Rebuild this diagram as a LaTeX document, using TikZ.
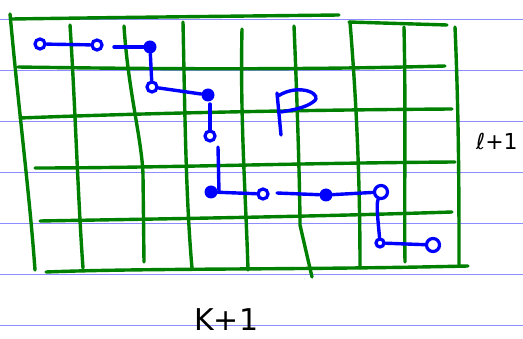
\documentclass[tikz,border=0pt]{standalone}
\usepackage{fontspec}
\setmainfont{DejaVu Sans}
\begin{document}
\begin{tikzpicture}[x=1pt,y=-1pt,
  rule/.style={draw=blue!45, line width=0.9pt},
  grid/.style={draw=green!50!black, line width=3.4pt, line cap=round, line join=round},
  path/.style={draw=blue, line width=3.4pt, line cap=round, line join=round},
  odot/.style={circle, draw=blue, line width=3.2pt, inner sep=0pt, minimum size=10pt},
  bigodot/.style={odot, minimum size=13pt},
  fdot/.style={circle, fill=blue, inner sep=0pt, minimum size=13pt},
  hand/.style={inner sep=0pt, text=black}]
\useasboundingbox (0,0) rectangle (523,339);
% ruled paper lines
\foreach \y in {19,70,121,172,223,274,325}
  \draw[rule] (0,\y) -- (523,\y);
% green grid: horizontal
\draw[grid] (12,19) .. controls (150,17) and (250,16) .. (339,15);
\draw[grid] (349,22) -- (447,25);
\draw[grid] (18,67) .. controls (150,69) and (300,70) .. (445,66);
\draw[grid] (20,118) .. controls (150,113) and (300,110) .. (452,109);
\draw[grid] (35,168) .. controls (150,168) and (300,163) .. (455,162);
\draw[grid] (40,221) .. controls (150,219) and (300,217) .. (452,212);
\draw[grid] (46,272) .. controls (150,268) and (300,270) .. (468,266);
% green grid: vertical
\draw[grid] (10,14) -- (12,35) .. controls (20,120) and (30,200) .. (35,270);
\draw[grid] (70,25) .. controls (75,100) and (78,200) .. (83,268);
\draw[grid] (124,26) .. controls (128,90) and (142,140) .. (143,175) -- (144,262);
\draw[grid] (183,22) .. controls (185,120) and (186,200) .. (192,268);
\draw[grid] (242,29) .. controls (240,120) and (246,200) .. (248,270);
\draw[grid] (294,26) .. controls (298,120) and (300,200) .. (300,225) -- (312,277);
\draw[grid] (350,22) .. controls (358,120) and (360,200) .. (360,268);
\draw[grid] (404,27) .. controls (406,120) and (404,200) .. (405,262);
\draw[grid] (455,27) .. controls (459,120) and (459,200) .. (459,265);
% blue path dots
\node[odot] (A) at (40,44) {};
\node[odot] (B) at (97,45) {};
\node[fdot] (C) at (150,47) {};
\node[odot] (D) at (152,87) {};
\node[fdot] (E) at (208,95) {};
\node[odot] (F) at (210,136) {};
\node[fdot] (G) at (211,192) {};
\node[odot] (H) at (263,194) {};
\node[fdot] (I) at (326,195) {};
\node[bigodot] (J) at (381,192) {};
\node[odot, minimum size=8pt] (K) at (380,243) {};
\node[bigodot] (L) at (433,245) {};
\coordinate (bc) at (114,47);
\coordinate (ef) at (210,104);
\coordinate (fg1) at (218,147);
\coordinate (fg2) at (219,192);
\coordinate (hi) at (277,193);
% blue path connectors
\draw[path] (A) -- (B);
\draw[path] (bc) -- (C);
\draw[path] (C) -- (D);
\draw[path] (D) -- (E);
\draw[path] (ef) -- (F);
\draw[path] (fg1) -- (fg2);
\draw[path] (G) -- (H);
\draw[path] (hi) -- (I);
\draw[path] (I) -- (J);
\draw[path] (J) .. controls (376,205) and (378,220) .. (K);
\draw[path] (K) -- (L);
% letter P
\draw[path] (277,93) -- (281,135);
\draw[path] (278,96) .. controls (300,82) and (325,95) .. (313,102) .. controls (305,108) and (292,110) .. (281,112);
% labels
\node[hand, font=\fontsize{22}{22}\selectfont, anchor=west] (lab1) at (476,141) {ℓ+1};
\node[hand, font=\fontsize{30}{30}\selectfont, anchor=south west] (lab2) at (194,331) {K+1};
\end{tikzpicture}
\end{document}
